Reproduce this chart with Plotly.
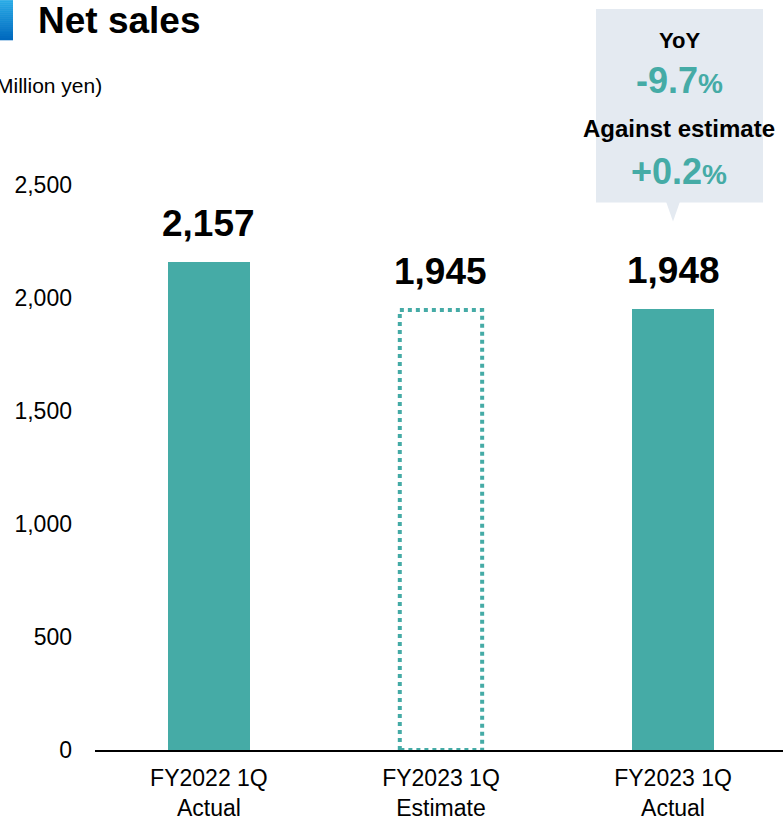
import plotly.graph_objects as go

categories = ["FY2022 1Q<br>Actual", "FY2023 1Q<br>Estimate", "FY2023 1Q<br>Actual"]
values = [2157, 1945, 1948]
value_labels = ["2,157", "1,945", "1,948"]
is_estimate = [False, True, False]
y_ticks = [0, 500, 1000, 1500, 2000, 2500]
y_tick_labels = ["0", "500", "1,000", "1,500", "2,000", "2,500"]
yoy_text = "-9.7"
vs_est_text = "+0.2"

TEAL = "#45ABA6"
FONT = "Liberation Sans, Arial, sans-serif"
W = 0.355

fig = go.Figure()
xs = list(range(len(categories)))

solid_x = [x for x, e in zip(xs, is_estimate) if not e]
solid_y = [v for v, e in zip(values, is_estimate) if not e]
fig.add_trace(go.Bar(x=solid_x, y=solid_y, width=W, marker=dict(color=TEAL, line=dict(width=0)),
                     showlegend=False, hoverinfo="skip"))

for x, v, e in zip(xs, values, is_estimate):
    if e:
        fig.add_trace(go.Scatter(
            x=[x - W / 2, x - W / 2, x + W / 2, x + W / 2, x - W / 2],
            y=[0, v, v, 0, 0], mode="lines",
            line=dict(color=TEAL, width=4, dash="dot"),
            showlegend=False, hoverinfo="skip"))

for x, v, lab in zip(xs, values, value_labels):
    fig.add_annotation(x=x, y=v, text=f"<b>{lab}</b>", showarrow=False, yanchor="bottom",
                       xanchor="center", yshift=16,
                       font=dict(size=37, color="#000000", family=FONT))

fig.update_xaxes(range=[-0.491, 2.474], tickmode="array", tickvals=xs, ticktext=categories,
                 showline=True, linecolor="#000000", linewidth=2, showgrid=False, zeroline=False,
                 ticks="", ticklabelstandoff=6, tickfont=dict(size=23, color="#000000", family=FONT))
fig.update_yaxes(range=[0, 3139], tickmode="array", tickvals=y_ticks, ticktext=y_tick_labels,
                 showline=False, showgrid=False, zeroline=False, ticks="", ticklabelstandoff=22,
                 tickfont=dict(size=23, color="#000000", family=FONT))


def px_x(p):
    return (p - 95) / 688


def px_y(p):
    return (752 - p) / 712


# title block with gradient square
n_strips = 20
c_top = (40, 170, 230)
c_bot = (0, 105, 190)
for i in range(n_strips):
    t = i / (n_strips - 1)
    col = tuple(int(round(a + (b - a) * t)) for a, b in zip(c_top, c_bot))
    fig.add_shape(type="rect", xref="paper", yref="paper", x0=px_x(0), x1=px_x(13),
                  y0=px_y(40 * (i + 1) / n_strips + 0.3), y1=px_y(40 * i / n_strips),
                  fillcolor="rgb(%d,%d,%d)" % col, line=dict(width=0), layer="above")
fig.add_annotation(xref="paper", yref="paper", x=px_x(36), y=px_y(20), xanchor="left",
                   yanchor="middle", text="<b>Net sales</b>", showarrow=False,
                   font=dict(size=37, color="#000000", family=FONT))
fig.add_annotation(xref="paper", yref="paper", x=px_x(104), y=px_y(86), xanchor="right",
                   yanchor="middle", text="(Million yen)", showarrow=False,
                   font=dict(size=21, color="#000000", family=FONT))

# callout box
BOX = "#E4EAF1"
fig.add_shape(type="rect", xref="paper", yref="paper", x0=px_x(596), x1=px_x(763),
              y0=px_y(203), y1=px_y(9), fillcolor=BOX, line=dict(width=0), layer="below")
fig.add_shape(type="path", xref="paper", yref="paper",
              path=f"M {px_x(666)} {px_y(202)} L {px_x(680)} {px_y(202)} L {px_x(673)} {px_y(222)} Z",
              fillcolor=BOX, line=dict(width=0), layer="below")
box_texts = [
    ("<b>YoY</b>", 40, 22, "#000000"),
    (f"<b>{yoy_text}<span style='font-size:28px'>%</span></b>", 81, 36, TEAL),
    ("<b>Against estimate</b>", 129, 24, "#000000"),
    (f"<b>{vs_est_text}<span style='font-size:28px'>%</span></b>", 172, 36, TEAL),
]
for txt, ypx, size, color in box_texts:
    fig.add_annotation(xref="paper", yref="paper", x=px_x(679), y=px_y(ypx), text=txt,
                       xanchor="center", yanchor="middle", showarrow=False,
                       font=dict(size=size, color=color, family=FONT))

fig.update_layout(width=783, height=821, margin=dict(l=95, r=0, t=40, b=69),
                  plot_bgcolor="white", paper_bgcolor="white", bargap=0,
                  font=dict(family=FONT, color="#000000"))

fig.write_html("out.html", config={"displayModeBar": False},
               post_script="document.body.style.margin='0';document.body.style.overflow='hidden';")
